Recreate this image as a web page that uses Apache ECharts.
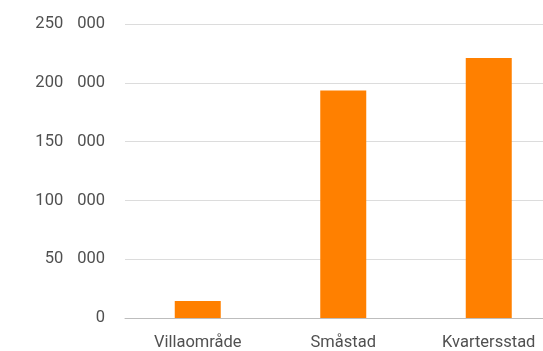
<!DOCTYPE html>
<html>
<head>
<meta charset="utf-8">
<script src="https://cdn.jsdelivr.net/npm/echarts@6/dist/echarts.min.js"></script>
<style>
  html, body { margin: 0; padding: 0; background: #fff; overflow: hidden; width: 543px; height: 351px; }
  /* canvas is wider than the window so the last band is cut off at the right edge */
  #chart { width: 562px; height: 351px; }
</style>
</head>
<body>
<div id="chart"></div>
<script>
// Area types and their values
const categories = ['Villaområde', 'Småstad', 'Kvartersstad'];
const values = [14500, 193500, 221000];
const yTicks = [0, 50000, 100000, 150000, 200000, 250000];

const chart = echarts.init(document.getElementById('chart'), null, { renderer: 'canvas' });

const FONT = 'Roboto';
const SIZE = 16.5;
const TXT = '#505050';

// Thousands shown with a wide gap: "250  000"
function fmtThousands(v) {
  if (v === 0) return '0';
  const th = Math.floor(v / 1000);
  const rest = String(v % 1000).padStart(3, '0');
  return '{a|' + th + '}{b|' + rest + '}';
}

chart.setOption({
  animation: false,
  grid: { left: 125, right: 0.5, top: 24, bottom: 32, containLabel: false },
  xAxis: {
    type: 'category',
    data: categories,
    axisLine: { lineStyle: { color: '#bdbdbd', width: 1 } },
    axisTick: { show: false },
    axisLabel: {
      color: TXT,
      fontFamily: FONT,
      fontSize: SIZE,
      margin: 16
    }
  },
  yAxis: {
    type: 'value',
    min: yTicks[0],
    max: yTicks[yTicks.length - 1],
    interval: 50000,
    axisLine: { show: false },
    axisTick: { show: false },
    splitLine: { lineStyle: { color: '#dcdcdc', width: 1 } },
    axisLabel: {
      color: TXT,
      fontFamily: FONT,
      fontSize: SIZE,
      margin: 20,
      formatter: fmtThousands,
      rich: {
        a: { color: TXT, fontFamily: FONT, fontSize: SIZE },
        b: { color: TXT, fontFamily: FONT, fontSize: SIZE, padding: [0, 0, 0, 14] }
      }
    }
  },
  series: [{
    type: 'bar',
    data: values,
    barWidth: 46,
    itemStyle: { color: '#ff8000' }
  }]
});
</script>
</body>
</html>
